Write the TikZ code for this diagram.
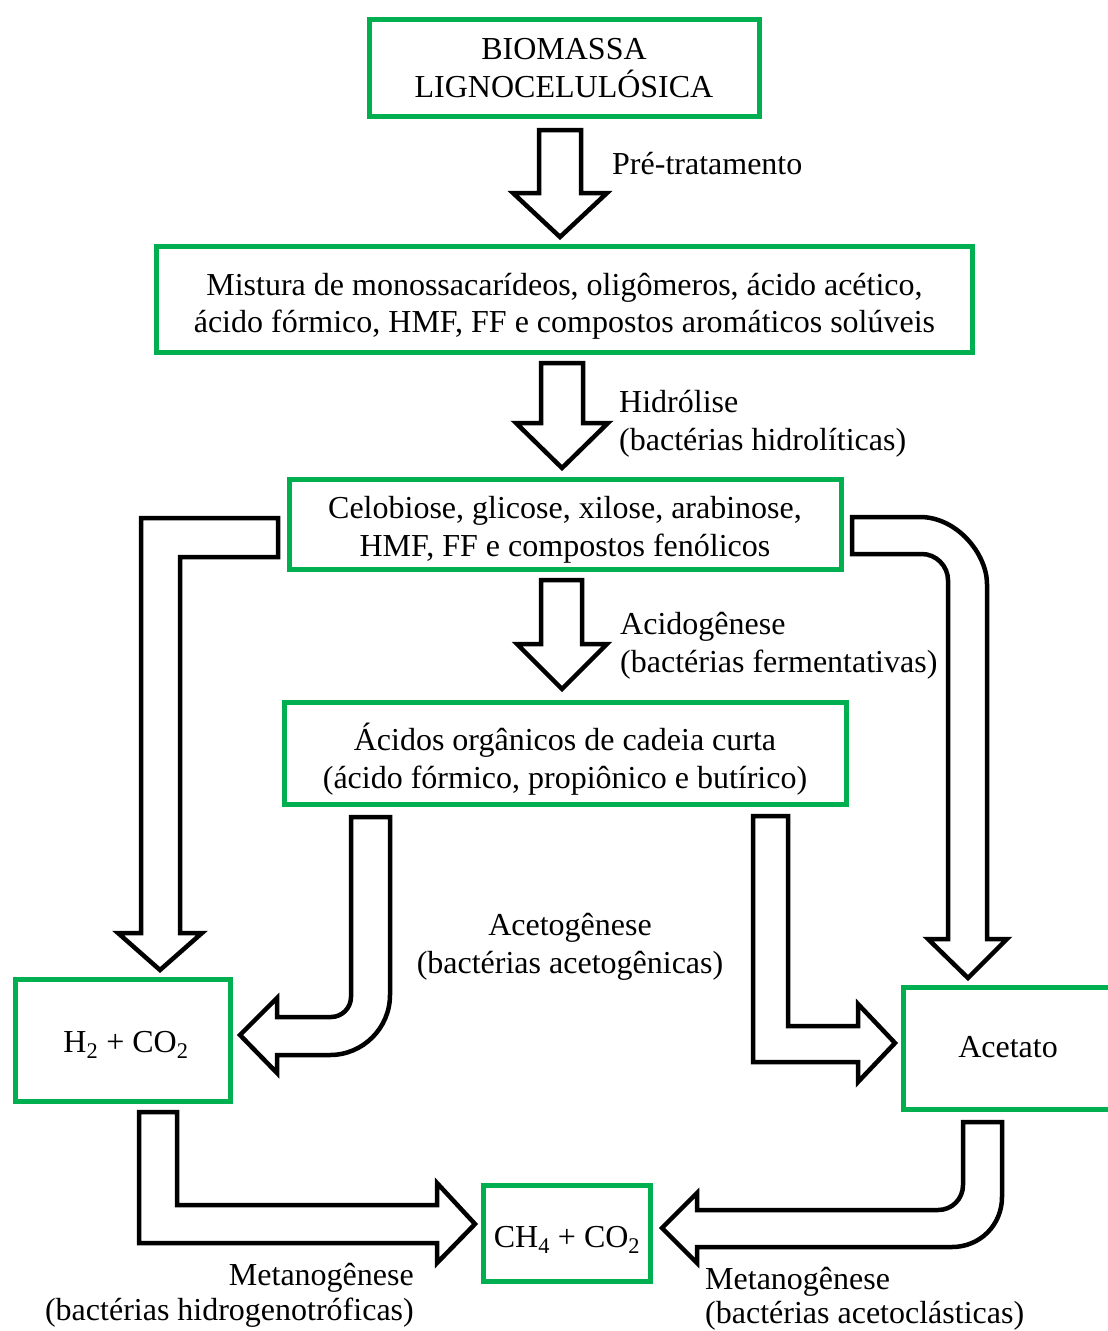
\documentclass[tikz,border=0pt]{standalone}
\usepackage{fontspec}
\setmainfont{Liberation Serif}
\usetikzlibrary{calc}
\definecolor{boxgreen}{RGB}{0,176,80}
\begin{document}
\begin{tikzpicture}[x=1pt,y=-1pt,
  font=\fontsize{32}{38}\selectfont,
  box/.style={draw=boxgreen,line width=5pt,inner sep=0pt},
  txt/.style={inner sep=0pt,align=center,anchor=base},
  lbl/.style={inner sep=0pt},
  barrow/.style={draw=black,fill=white,line width=4.5pt,line join=miter}]
\useasboundingbox (0,0) rectangle (1108,1331);

% boxes
\node[box,minimum width=390,minimum height=97] (bio) at (564.5,68) {};
\node[box,minimum width=816,minimum height=106] (mix) at (564.5,299.5) {};
\node[box,minimum width=552,minimum height=90] (celo) at (565.5,524.5) {};
\node[box,minimum width=562,minimum height=102] (acids) at (565.5,753.5) {};
\node[box,minimum width=215,minimum height=122] (h2) at (123,1040.5) {};
\node[box,minimum width=209,minimum height=122] (acet) at (1008,1048.5) {};
\node[box,minimum width=167,minimum height=96] (ch4) at (567,1233.5) {};

% box texts (anchored at last baseline)
\node[txt] (bio-t) at (564,97) {BIOMASSA\\LIGNOCELULÓSICA};
\node[txt] (mix-t) at (564.5,332) {Mistura de monossacarídeos, oligômeros, ácido acético,\\[-1pt]ácido fórmico, HMF, FF e compostos aromáticos solúveis};
\node[txt] (celo-t) at (565,556) {Celobiose, glicose, xilose, arabinose,\\HMF, FF e compostos fenólicos};
\node[txt] (acids-t) at (565,788) {Ácidos orgânicos de cadeia curta\\(ácido fórmico, propiônico e butírico)};
\node[txt] (h2-t) at (126,1052) {H\textsubscript{2} + CO\textsubscript{2}};
\node[txt] (acet-t) at (1008,1057) {Acetato};
\node[txt] (ch4-t) at (567,1247) {CH\textsubscript{4} + CO\textsubscript{2}};

% labels (anchored at last baseline)
\node[lbl,anchor=base west] (pre) at (612,174) {Pré-tratamento};
\node[lbl,anchor=base west,align=left] (hid) at (619,450) {Hidrólise\\(bactérias hidrolíticas)};
\node[lbl,anchor=base west,align=left] (acid) at (620,672) {Acidogênese\\(bactérias fermentativas)};
\node[lbl,anchor=base,align=center] (aceto) at (570,973) {Acetogênese\\(bactérias acetogênicas)};
\node[lbl,anchor=base east,align=right] (metH) at (414,1320) {Metanogênese\\[-3pt](bactérias hidrogenotróficas)};
\node[lbl,anchor=base west,align=left] (metA) at (705,1323) {Metanogênese\\[-4pt](bactérias acetoclásticas)};

% straight down arrows
\draw[barrow] (539,130) -- (581,130) -- (581,193) -- (607,193) -- (560,237) -- (513,193) -- (539,193) -- cycle;
\draw[barrow] (541,363) -- (583,363) -- (583,423) -- (608,423) -- (562,468) -- (516,423) -- (541,423) -- cycle;
\draw[barrow] (541,580) -- (582,580) -- (582,644) -- (607,644) -- (562,689) -- (517,644) -- (541,644) -- cycle;

% left bent arrow (celo -> h2)
\draw[barrow] (278,518) -- (141,518) -- (141,933) -- (118,933) -- (160,970) -- (202,933) -- (180,933) -- (180,557) -- (278,557) -- cycle;

% right curved arrow (celo -> acet)
\draw[barrow] (852,517) -- (920,517) .. controls (957,517) and (987,554) .. (987,584) -- (987,939) -- (1007,939) -- (968,978) -- (928,939) -- (948,939) -- (948,580) .. controls (948,566) and (936,554) .. (922,554) -- (852,554) -- cycle;

% J arrow (acids -> h2)
\draw[barrow] (351,817) -- (390,817) -- (390,995) .. controls (390,1028) and (363,1055) .. (330,1055) -- (277,1055) -- (277,1073) -- (240,1035) -- (277,998) -- (277,1017) -- (331,1017) .. controls (342,1017) and (351,1008) .. (351,997) -- cycle;

% L arrow (acids -> acet)
\draw[barrow] (753,816) -- (788,816) -- (788,1026) -- (858,1026) -- (858,1004) -- (895,1043) -- (858,1082) -- (858,1062) -- (753,1062) -- cycle;

% bottom left arrow (h2 -> ch4)
\draw[barrow] (139,1112) -- (177,1112) -- (177,1205) -- (437,1205) -- (437,1183) -- (475,1224) -- (437,1263) -- (437,1243) -- (139,1243) -- cycle;

% bottom right arrow (acet -> ch4)
\draw[barrow] (963,1122) -- (1002,1122) -- (1002,1197) .. controls (1002,1225) and (980,1247) .. (952,1247) -- (697,1247) -- (697,1263) -- (662,1228) -- (697,1193) -- (697,1210) -- (938,1210) .. controls (952,1210) and (963,1199) .. (963,1185) -- cycle;
\end{tikzpicture}
\end{document}
